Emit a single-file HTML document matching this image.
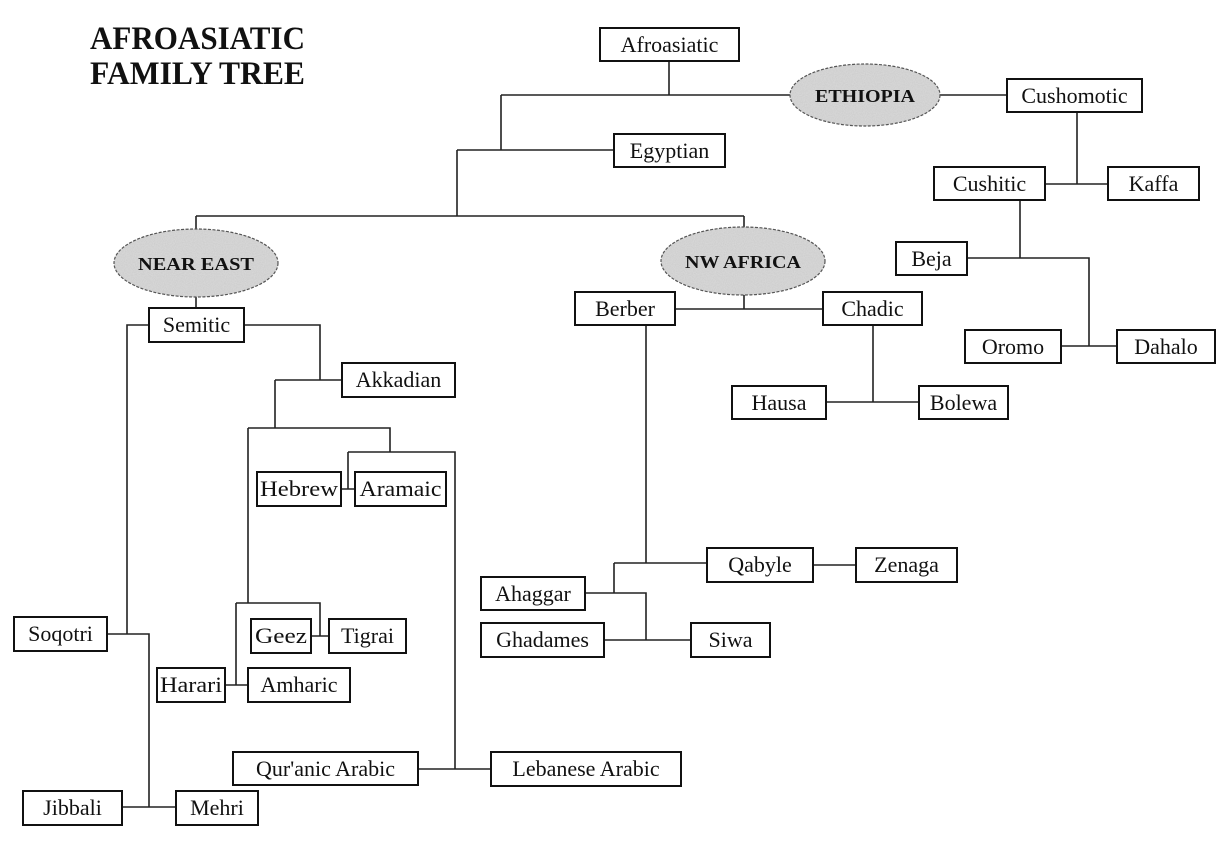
<!DOCTYPE html>
<html><head><meta charset="utf-8"><style>
html,body{margin:0;padding:0;background:#fff;}
svg{display:block;}
text{font-family:"Liberation Serif",serif;}
</style></head><body>
<svg width="1230" height="844" viewBox="0 0 1230 844" xmlns="http://www.w3.org/2000/svg">
<defs>
<filter id="n" x="0" y="0" width="100%" height="100%">
<feTurbulence type="fractalNoise" baseFrequency="0.9" numOctaves="1" seed="3"/>
<feColorMatrix type="matrix" values="0 0 0 0 0.55  0 0 0 0 0.55  0 0 0 0 0.55  0 0 0 -1.6 1.1"/>
<feComposite in2="SourceGraphic" operator="in"/>
</filter>
</defs>
<g font-weight="bold" font-size="33" fill="#111">
<text x="90" y="49" textLength="215" lengthAdjust="spacingAndGlyphs">AFROASIATIC</text>
<text x="90" y="84" textLength="215" lengthAdjust="spacingAndGlyphs">FAMILY TREE</text>
</g>
<g stroke="#222" stroke-width="1.6" fill="none">
<path d="M669 61V95M501 95H790M940 95H1007M501 95V150H614M457 150H501M457 150V216M196 216H744M196 216V230M744 216V227M196 297V308"/>
<path d="M149 325H127V634M244 325H320V380M275 380H342M275 380V428M248 428H390V452M348 452H455V769M348 452V489H355M341 489H348M248 428V603M236 603H320V636M311 636H329M236 603V685M225 685H248"/>
<path d="M107 634H149V807M122 807H176M418 769H491"/>
<path d="M744 295V309M675 309H823M873 325V402M826 402H919M646 325V563M614 563H707M614 563V593M585 593H646V640M604 640H691M813 565H856"/>
<path d="M1077 112V184M1045 184H1108M1020 200V258M967 258H1089V346M1061 346H1117"/>
</g>
<g fill="#fff" stroke="#111" stroke-width="2">
<rect x="600" y="28" width="139" height="33"/>
<rect x="614" y="134" width="111" height="33"/>
<rect x="1007" y="79" width="135" height="33"/>
<rect x="934" y="167" width="111" height="33"/>
<rect x="1108" y="167" width="91" height="33"/>
<rect x="896" y="242" width="71" height="33"/>
<rect x="965" y="330" width="96" height="33"/>
<rect x="1117" y="330" width="98" height="33"/>
<rect x="575" y="292" width="100" height="33"/>
<rect x="823" y="292" width="99" height="33"/>
<rect x="732" y="386" width="94" height="33"/>
<rect x="919" y="386" width="89" height="33"/>
<rect x="707" y="548" width="106" height="34"/>
<rect x="856" y="548" width="101" height="34"/>
<rect x="481" y="577" width="104" height="33"/>
<rect x="481" y="623" width="123" height="34"/>
<rect x="691" y="623" width="79" height="34"/>
<rect x="149" y="308" width="95" height="34"/>
<rect x="342" y="363" width="113" height="34"/>
<rect x="257" y="472" width="84" height="34"/>
<rect x="355" y="472" width="91" height="34"/>
<rect x="251" y="619" width="60" height="34"/>
<rect x="329" y="619" width="77" height="34"/>
<rect x="157" y="668" width="68" height="34"/>
<rect x="248" y="668" width="102" height="34"/>
<rect x="14" y="617" width="93" height="34"/>
<rect x="23" y="791" width="99" height="34"/>
<rect x="176" y="791" width="82" height="34"/>
<rect x="233" y="752" width="185" height="33"/>
<rect x="491" y="752" width="190" height="34"/>
</g>
<g font-size="22" fill="#111" text-anchor="middle">
<text x="669.5" y="52">Afroasiatic</text>
<text x="669.5" y="158">Egyptian</text>
<text x="1074.5" y="103">Cushomotic</text>
<text x="989.5" y="191">Cushitic</text>
<text x="1153.5" y="191">Kaffa</text>
<text x="931.5" y="266">Beja</text>
<text x="1013" y="354">Oromo</text>
<text x="1166" y="354">Dahalo</text>
<text x="625" y="316">Berber</text>
<text x="872.5" y="316">Chadic</text>
<text x="779" y="410">Hausa</text>
<text x="963.5" y="410">Bolewa</text>
<text x="760" y="572">Qabyle</text>
<text x="906.5" y="572">Zenaga</text>
<text x="533" y="601">Ahaggar</text>
<text x="542.5" y="647">Ghadames</text>
<text x="730.5" y="647">Siwa</text>
<text x="196.5" y="332">Semitic</text>
<text x="398.5" y="387">Akkadian</text>
<text x="299" y="496" textLength="78" lengthAdjust="spacingAndGlyphs">Hebrew</text>
<text x="400.5" y="496" textLength="82" lengthAdjust="spacingAndGlyphs">Aramaic</text>
<text x="281" y="643" textLength="52" lengthAdjust="spacingAndGlyphs">Geez</text>
<text x="367.5" y="643">Tigrai</text>
<text x="191" y="692" textLength="62" lengthAdjust="spacingAndGlyphs">Harari</text>
<text x="299" y="692">Amharic</text>
<text x="60.5" y="641">Soqotri</text>
<text x="72.5" y="815">Jibbali</text>
<text x="217" y="815">Mehri</text>
<text x="325.5" y="776">Qur'anic Arabic</text>
<text x="586" y="776">Lebanese Arabic</text>
</g>
<g>
<ellipse cx="865" cy="95" rx="75" ry="31" fill="#d6d6d6"/>
<ellipse cx="865" cy="95" rx="75" ry="31" fill="#fff" filter="url(#n)" opacity="0.6"/>
<ellipse cx="865" cy="95" rx="75" ry="31" fill="none" stroke="#555" stroke-width="1.2" stroke-dasharray="3 1.5"/>
<ellipse cx="196" cy="263" rx="82" ry="34" fill="#d6d6d6"/>
<ellipse cx="196" cy="263" rx="82" ry="34" fill="#fff" filter="url(#n)" opacity="0.6"/>
<ellipse cx="196" cy="263" rx="82" ry="34" fill="none" stroke="#555" stroke-width="1.2" stroke-dasharray="3 1.5"/>
<ellipse cx="743" cy="261" rx="82" ry="34" fill="#d6d6d6"/>
<ellipse cx="743" cy="261" rx="82" ry="34" fill="#fff" filter="url(#n)" opacity="0.6"/>
<ellipse cx="743" cy="261" rx="82" ry="34" fill="none" stroke="#555" stroke-width="1.2" stroke-dasharray="3 1.5"/>
</g>
<g font-size="18" font-weight="bold" fill="#111" text-anchor="middle">
<text x="865" y="102" textLength="100" lengthAdjust="spacingAndGlyphs">ETHIOPIA</text>
<text x="196" y="270" textLength="116" lengthAdjust="spacingAndGlyphs">NEAR EAST</text>
<text x="743" y="268" textLength="116" lengthAdjust="spacingAndGlyphs">NW AFRICA</text>
</g>
</svg>
</body></html>
